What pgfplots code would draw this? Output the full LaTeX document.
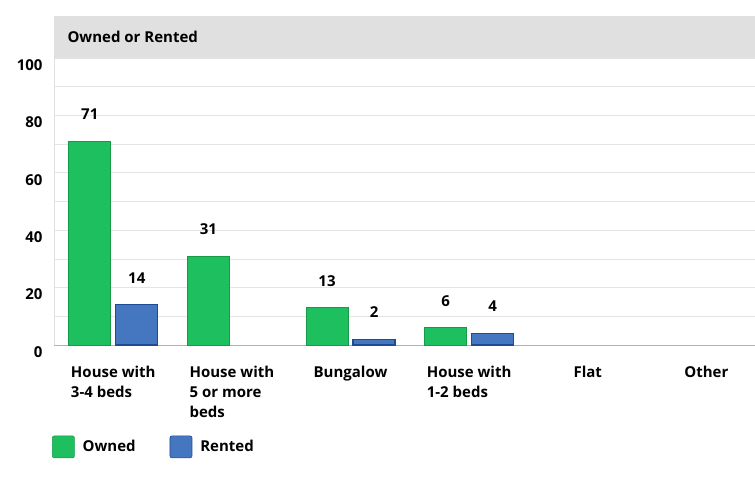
\documentclass[border=0pt]{standalone}
\usepackage{pgfplots}
\pgfplotsset{compat=1.18}
\usepackage{fontspec}
\setmainfont{Open Sans}
\definecolor{owned}{HTML}{1DBF5E}
\definecolor{ownedE}{HTML}{159A48}
\definecolor{rented}{HTML}{4577C0}
\definecolor{rentedE}{HTML}{1E4A96}
\definecolor{gridc}{HTML}{E4E4E4}
\definecolor{band}{HTML}{E0E0E0}
\begin{document}
\begin{tikzpicture}[x=1pt,y=1pt]
\path[use as bounding box] (-54,-140) rectangle (701,345);
\fill[band] (0,287) rectangle (701,329);
\node[anchor=west,font=\fontsize{15}{17}\selectfont\bfseries] at (10,308) {Owned or Rented};
\begin{axis}[
  at={(0,0)}, anchor=south west,
  scale only axis, width=701pt, height=287pt,
  xmin=-0.5, xmax=5.41, ymin=0, ymax=100,
  ybar, bar width=42pt,
  xtick={0,1,2,3,4,5},
  xticklabels={{House with\\3-4 beds},{House with\\5 or more\\beds},{Bungalow},{House with\\1-2 beds},{Flat},{Other}},
  xticklabel style={align=left, anchor=north, yshift=-18pt, font=\fontsize{15}{20}\selectfont\bfseries},
  ytick={0,20,...,100}, minor ytick={10,30,...,90},
  yticklabel style={font=\fontsize{15}{17}\selectfont\bfseries, yshift=-7pt, xshift=-8pt},
  /pgf/number format/assume math mode=true,
  major tick length=0pt, minor tick length=0pt,
  ymajorgrids, yminorgrids,
  grid style={gridc, line width=0.8pt},
  minor grid style={gridc, line width=0.8pt},
  axis x line*=bottom, axis y line*=left,
  x axis line style={draw=black!30, line width=1pt, -},
  y axis line style={draw=black!12, line width=0.8pt, -},
  nodes near coords,
  every node near coord/.append style={anchor=center, yshift=27pt, font=\fontsize{15}{17}\selectfont\bfseries, black},
  legend style={at={(axis description cs:-0.003,-0.355)}, anchor=west, draw=none, fill=none, inner sep=0pt, legend columns=2, font=\fontsize{15}{17}\selectfont\bfseries, /tikz/every even column/.append style={column sep=26pt}, /tikz/every odd column/.append style={column sep=0pt}},
  legend cell align=left,
  legend image code/.code={\draw[#1, rounded corners=2pt, line width=0.6pt] (0pt,-11pt) rectangle (22pt,11pt);},
  legend style={nodes={inner xsep=8pt}},
  clip=false,
]
\addplot[fill=owned, draw=ownedE, line width=0.8pt, bar shift=-23.5pt] coordinates {(0,71) (1,31) (2,13) (3,6)};
\addplot[fill=rented, draw=rentedE, line width=1.1pt, bar shift=23.5pt] coordinates {(0,14) (2,2) (3,4)};
\legend{Owned, Rented}
\end{axis}
\end{tikzpicture}
\end{document}
